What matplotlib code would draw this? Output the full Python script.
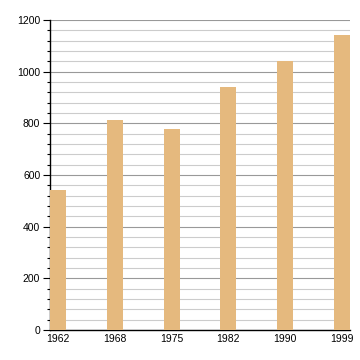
import matplotlib
matplotlib.use("Agg")
import matplotlib.pyplot as plt
from matplotlib.ticker import MultipleLocator

years = ["1962", "1968", "1975", "1982", "1990", "1999"]
values = [542, 813, 778, 940, 1040, 1142]

plt.rcParams['font.family'] = ['Liberation Sans', 'DejaVu Sans']

fig = plt.figure(figsize=(3.6, 3.6), dpi=100)
ax = fig.add_axes([50/360, 30/360, 300/360, 310/360])
x = list(range(len(years)))
ax.bar(x, values, width=0.28, color="#e5b97e", zorder=3)
ax.set_xlim(-0.14, len(years) - 1 + 0.14)
ax.set_ylim(0, 1200)
ax.set_xticks(x)
ax.set_xticklabels(years)
ax.yaxis.set_major_locator(MultipleLocator(200))
ax.yaxis.set_minor_locator(MultipleLocator(40))
ax.grid(axis='y', which='major', color='#999999', linewidth=0.8, zorder=0)
ax.grid(axis='y', which='minor', color='#cccccc', linewidth=0.8, zorder=0)
for s in ['top', 'right']:
    ax.spines[s].set_visible(False)
ax.spines['left'].set_linewidth(1.0)
ax.spines['bottom'].set_linewidth(1.0)
ax.tick_params(axis='y', which='major', length=5, width=0.8, labelsize=7.5, pad=2)
ax.tick_params(axis='y', which='minor', length=2.5, width=0.8)
ax.tick_params(axis='x', which='both', length=0, labelsize=7.5, pad=3)
fig.savefig("out.png", dpi=100)
